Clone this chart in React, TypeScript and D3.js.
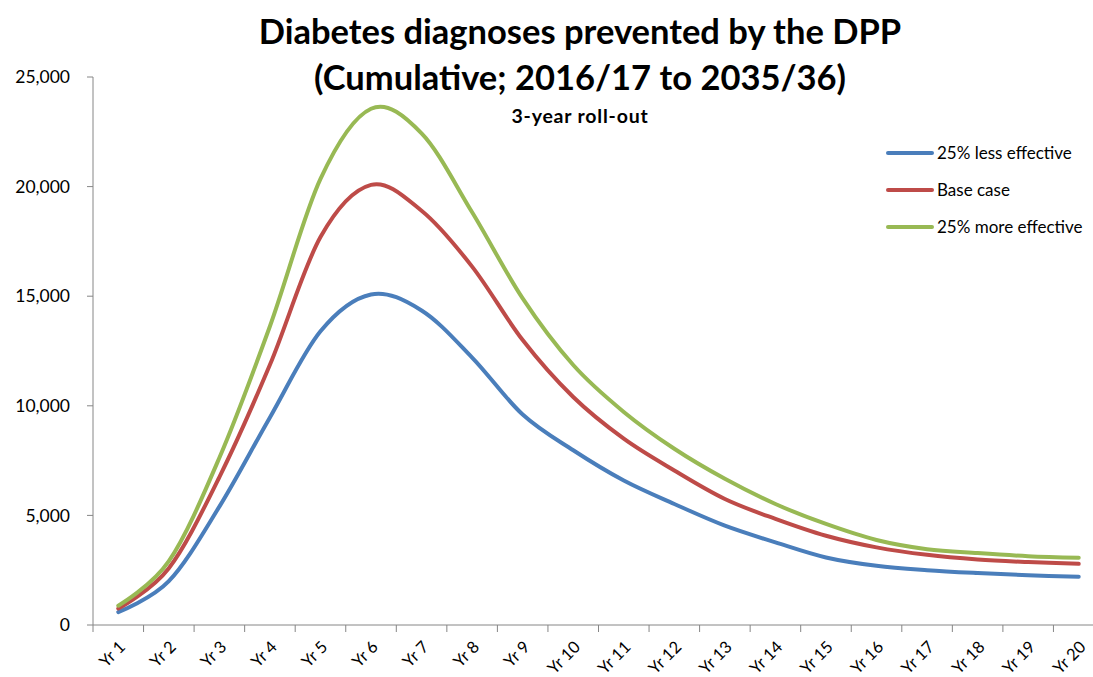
import React from "react";
import * as d3 from "d3";

// Category labels along the x axis
const years: string[] = [
  "Yr 1", "Yr 2", "Yr 3", "Yr 4", "Yr 5", "Yr 6", "Yr 7", "Yr 8", "Yr 9", "Yr 10",
  "Yr 11", "Yr 12", "Yr 13", "Yr 14", "Yr 15", "Yr 16", "Yr 17", "Yr 18", "Yr 19", "Yr 20",
];

// Diabetes diagnoses prevented, per scenario
const lessEffective: number[] = [
  590, 2000, 5400, 9470, 13400, 15080, 14350, 12200, 9600, 7970,
  6590, 5520, 4530, 3770, 3080, 2700, 2500, 2370, 2270, 2200,
];
const baseCase: number[] = [
  750, 2590, 6750, 11870, 17700, 20080, 18900, 16350, 13000, 10400,
  8500, 7050, 5750, 4840, 4070, 3540, 3200, 2990, 2870, 2790,
];
const moreEffective: number[] = [
  880, 2910, 7630, 13630, 20350, 23550, 22430, 18830, 14900, 11860,
  9720, 8040, 6670, 5520, 4610, 3880, 3460, 3280, 3140, 3070,
];

const seriesNames: string[] = ["25% less effective", "Base case", "25% more effective"];
const seriesColors: string[] = ["#4A7EBB", "#BE4B48", "#98B954"];
const yTicks: number[] = [0, 5000, 10000, 15000, 20000, 25000];

const W = 1093;
const H = 677;
const FONT = "Lato, Carlito, Calibri, sans-serif";

export default function App() {
  const left = 93;
  const step = 50.55;
  const x = d3
    .scaleBand<string>()
    .domain(years)
    .range([left, left + step * years.length])
    .paddingInner(0)
    .paddingOuter(0);
  const y = d3.scaleLinear().domain([0, 25000]).range([625, 77]);

  const series = [lessEffective, baseCase, moreEffective];
  const line = d3
    .line<number>()
    .x((_, i) => (x(years[i]) as number) + x.bandwidth() / 2)
    .y((d) => y(d))
    .curve(d3.curveCatmullRom.alpha(0));

  const fmt = d3.format(",");
  const boundaries = d3.range(years.length + 1).map((i) => left + i * step);

  return (
    <svg
      width={W}
      height={H}
      style={{ position: "absolute", left: 0, top: 0, background: "#fff" }}
      fontFamily={FONT}
    >
      <rect x={0} y={0} width={W} height={H} fill="#fff" />

      {/* titles */}
      <text x={580} y={44} textAnchor="middle" fontSize={34.5} fontWeight={700} fill="#000">
        Diabetes diagnoses prevented by the DPP
      </text>
      <text x={580} y={90} textAnchor="middle" fontSize={34.5} fontWeight={700} fill="#000">
        (Cumulative; 2016/17 to 2035/36)
      </text>
      <text x={580} y={123} textAnchor="middle" fontSize={19.5} fontWeight={700} letterSpacing={0.8} fill="#000">
        3-year roll-out
      </text>

      {/* y axis */}
      <line x1={left} x2={left} y1={y(25000)} y2={y(0)} stroke="#868686" strokeWidth={1} />
      {yTicks.map((t) => (
        <g key={t}>
          <line x1={left - 6} x2={left} y1={y(t)} y2={y(t)} stroke="#868686" />
          <text x={70} y={y(t)} dy="0.35em" textAnchor="end" fontSize={17.5} fill="#000">
            {fmt(t)}
          </text>
        </g>
      ))}

      {/* x axis */}
      <line x1={left} x2={W} y1={y(0)} y2={y(0)} stroke="#868686" strokeWidth={1} />
      {boundaries.map((b, i) => (
        <line key={i} x1={b} x2={b} y1={y(0)} y2={y(0) + 7} stroke="#868686" />
      ))}
      {years.map((yr) => {
        const cx = (x(yr) as number) + x.bandwidth() / 2;
        return (
          <text
            key={yr}
            transform={`translate(${cx + 4},${y(0) + 19}) rotate(-45)`}
            textAnchor="end"
            dy="0.35em"
            fontSize={16.5}
            fill="#000"
          >
            {yr}
          </text>
        );
      })}

      {/* series lines */}
      {series.map((s, k) => (
        <path
          key={k}
          d={line(s) as string}
          fill="none"
          stroke={seriesColors[k]}
          strokeWidth={4}
          strokeLinecap="round"
          strokeLinejoin="round"
        />
      ))}

      {/* legend */}
      {seriesNames.map((n, k) => {
        const ly = 153 + k * 37;
        return (
          <g key={n}>
            <line x1={888} x2={932} y1={ly} y2={ly} stroke={seriesColors[k]} strokeWidth={4} strokeLinecap="round" />
            <text x={937} y={ly} dy="0.35em" fontSize={17} fill="#000">
              {n}
            </text>
          </g>
        );
      })}
    </svg>
  );
}
